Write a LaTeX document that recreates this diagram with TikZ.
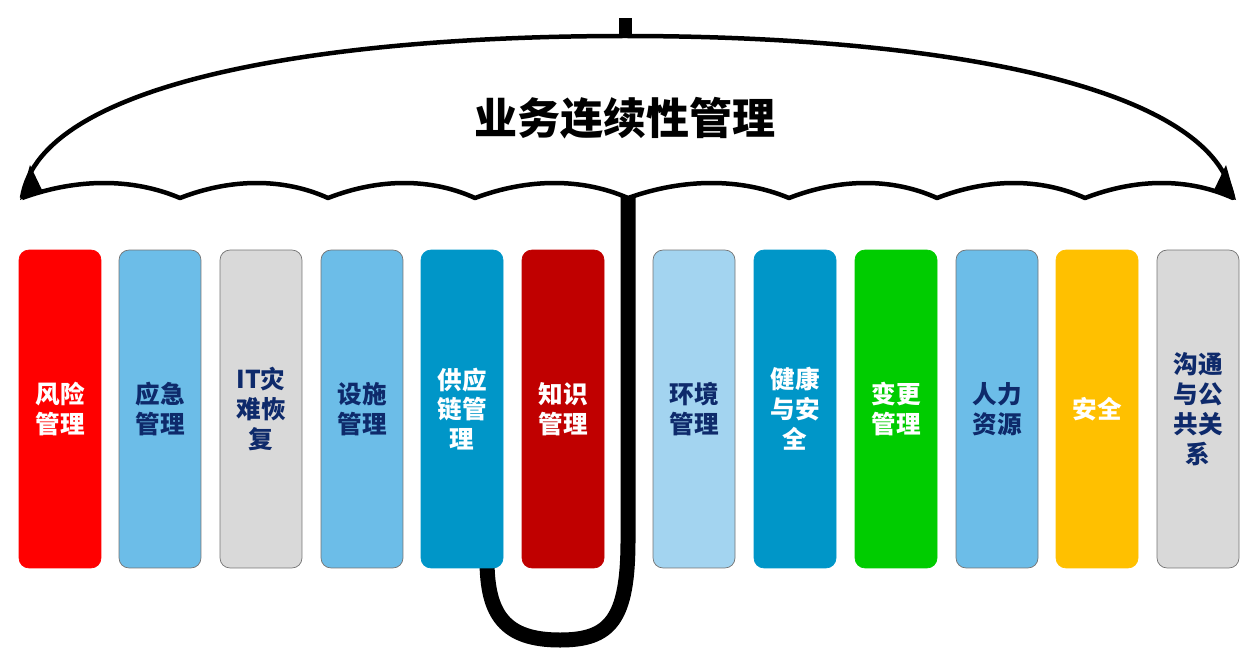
\documentclass[tikz,border=0pt]{standalone}
\usepackage{fontspec}
\setmainfont{Noto Sans CJK SC}
\definecolor{navy}{HTML}{0E2A6B}
\definecolor{skyb}{HTML}{6CBDE8}
\definecolor{paleb}{HTML}{A3D4F0}
\definecolor{deepb}{HTML}{0096C8}
\definecolor{greyb}{HTML}{D9D9D9}
\definecolor{darkr}{HTML}{C00000}
\definecolor{brightg}{HTML}{00CC00}
\definecolor{goldb}{HTML}{FFC000}
\tikzset{
  pillar/.style={draw=#1, rounded corners=0.2cm, minimum width=1.64cm,
    minimum height=6.36cm, inner sep=0pt, align=center,
    font=\fontsize{14}{17}\selectfont\bfseries},
  lightpillar/.style={pillar=black!55, fill=#1, text=navy},
  darkpillar/.style={pillar=#1, fill=#1, text=white},
}
\begin{document}
\begin{tikzpicture}[x=0.02cm,y=-0.02cm]
  \useasboundingbox (0,0) rectangle (1256,669);

  % handle
  \draw[line width=0.3cm] (628,190) -- (628,540)
     .. controls (628,620) and (610,640) .. (560,640)
     .. controls (505,640) and (487,615) .. (487,560);

  % canopy
  \fill (619,18) rectangle (632,36);
  \draw[line width=0.09cm, fill=white, line join=round]
     (22,198) .. controls (40,80) and (330,36) .. (625,36)
     .. controls (920,36) and (1210,80) .. (1233,198)
     \foreach \xa/\xb in {1233/1085,1085/937,937/789,789/628,628/475,475/328,328/180,180/22}
     { .. controls ({\xa-(\xa-\xb)*0.3},178) and ({\xb+(\xa-\xb)*0.35},178) .. (\xb,198) };
  \fill (20,200) -- (30,165) -- (42,190) -- cycle;
  \fill (1236,200) -- (1226,165) -- (1214,190) -- cycle;
  \node[font=\fontsize{24.5}{28}\selectfont\bfseries] (title) at (625,118) {业务连续性管理};

  % pillars
  \node[darkpillar=red]        (risk)  at (60,409)   {风险\\管理};
  \node[lightpillar=skyb]      (emerg) at (160,409)  {应急\\管理};
  \node[lightpillar=greyb]     (itdr)  at (261,409)  {IT灾\\难恢\\复};
  \node[lightpillar=skyb]      (fac)   at (362,409)  {设施\\管理};
  \node[darkpillar=deepb]      (chain) at (462,409)  {供应\\链管\\理};
  \node[darkpillar=darkr]      (know)  at (563,409)  {知识\\管理};
  \node[lightpillar=paleb]     (env)   at (694,409)  {环境\\管理};
  \node[darkpillar=deepb]      (hs)    at (795,409)  {健康\\与安\\全};
  \node[darkpillar=brightg]    (chg)   at (896,409)  {变更\\管理};
  \node[lightpillar=skyb]      (hr)    at (997,409)  {人力\\资源};
  \node[darkpillar=goldb]      (sec)   at (1097,409) {安全};
  \node[lightpillar=greyb]     (pr)    at (1198,409) {沟通\\与公\\共关\\系};

\end{tikzpicture}
\end{document}
